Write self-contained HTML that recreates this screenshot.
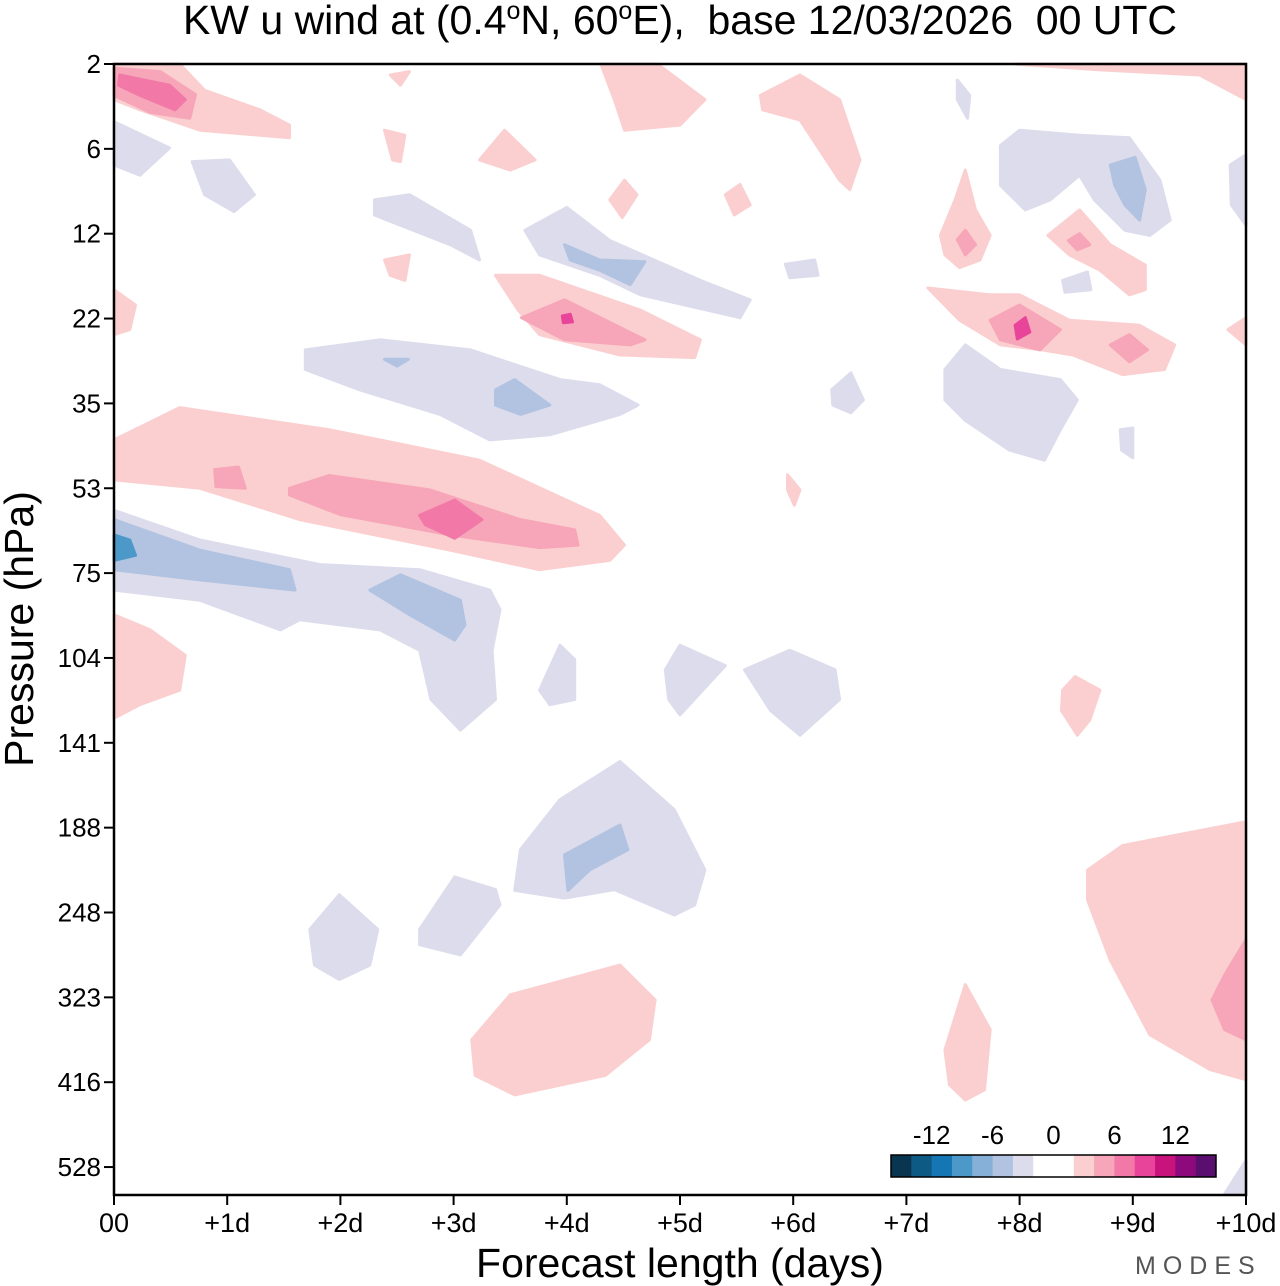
<!DOCTYPE html>
<html><head><meta charset="utf-8"><style>
body{margin:0;background:#fff;}
svg{display:block;font-family:"Liberation Sans",sans-serif;}
</style></head><body>
<svg id="chart" width="1280" height="1286" viewBox="0 0 1280 1286">
<text x="680" y="34" font-size="41" text-anchor="middle" style="white-space:pre">KW u wind at (0.4<tspan font-size="25" dy="-15">o</tspan><tspan dy="15">N, 60</tspan><tspan font-size="25" dy="-15">o</tspan><tspan dy="15">E),  base 12/03/2026  00 UTC</tspan></text>
<g id="fills"></g>
<rect x="114" y="64" width="1132" height="1131" fill="none" stroke="#000" stroke-width="2.5"/>
<g id="axes"></g>
<g id="cbar"></g>
<text transform="translate(33,629) rotate(-90)" font-size="41" text-anchor="middle">Pressure (hPa)</text>
<text x="680" y="1277" font-size="41" text-anchor="middle">Forecast length (days)</text>
<text x="1135" y="1274" font-size="25" fill="#555" letter-spacing="7">MODES</text>
</svg>
<script>
const levels=[2,6,12,22,35,53,75,104,141,188,248,323,416,528];
const dayTicks=["00","+1d","+2d","+3d","+4d","+5d","+6d","+7d","+8d","+9d","+10d"];
const cbarColors=["#0a3550","#0d5a85","#1476b3","#4b98c9","#86b0d7","#b1c3e0","#dcdcec","#ffffff","#ffffff","#fbcfcf","#f6a6b8","#f278a8","#e8459a","#c8137d","#8e0a7c","#5a0f6e"];
const cbarLabels=["-12","-6","0","6","12"];
const C={L:"#dcdcec",B:"#b1c3e0",B2:"#86b0d7",B3:"#4b98c9",P:"#fbcfcf",P2:"#f6a6b8",P3:"#f278a8",P4:"#e8459a"};
// contour regions: [colorKey, [[day, levelIndex], ...]]
const regions=[
["P",[[0,0],[0.58,0],[0.8,0.31],[1.29,0.54],[1.55,0.72],[1.55,0.87],[0.76,0.78],[0.23,0.54],[0,0.42]]],
["P2",[[0,0.05],[0.41,0.09],[0.72,0.36],[0.67,0.64],[0.32,0.57],[0,0.37]]],
["P3",[[0.05,0.13],[0.49,0.25],[0.63,0.42],[0.54,0.54],[0.23,0.37],[0.04,0.25]]],
["P",[[0,4.43],[0.58,4.05],[1.9,4.31],[3.23,4.67],[4.29,5.32],[4.51,5.67],[4.38,5.85],[3.76,5.96],[2.97,5.73],[1.64,5.37],[0.76,5.0],[0,4.9]]],
["P2",[[1.55,5.0],[1.9,4.85],[2.79,5.02],[3.59,5.37],[4.07,5.49],[4.1,5.67],[3.76,5.7],[2.97,5.55],[2.0,5.31],[1.55,5.08]]],
["P2",[[0.89,4.78],[1.1,4.75],[1.16,5.0],[0.9,4.98]]],
["P3",[[2.7,5.32],[3.01,5.14],[3.25,5.37],[3.01,5.59],[2.75,5.43]]],
["L",[[0,5.26],[0.76,5.61],[1.82,5.9],[2.7,5.96],[3.32,6.2],[3.41,6.43],[3.34,6.91],[3.37,7.49],[3.06,7.85],[2.8,7.49],[2.7,6.91],[2.35,6.67],[1.64,6.55],[1.47,6.67],[0.76,6.32],[0,6.2]]],
["B",[[0,5.37],[0.76,5.73],[1.55,5.96],[1.6,6.2],[0.76,6.08],[0,5.96]]],
["B",[[2.26,6.2],[2.53,6.02],[3.06,6.32],[3.1,6.61],[3.01,6.79],[2.61,6.49]]],
["B3",[[0,5.55],[0.14,5.61],[0.19,5.79],[0,5.85]]],
["L",[[1.69,3.37],[2.35,3.25],[3.15,3.37],[3.94,3.72],[4.29,3.78],[4.63,4.02],[4.47,4.13],[3.85,4.37],[3.32,4.43],[2.88,4.13],[2.17,3.84],[1.69,3.6]]],
["B",[[3.37,3.84],[3.54,3.72],[3.85,4.02],[3.59,4.13],[3.37,4.02]]],
["B",[[2.39,3.48],[2.6,3.48],[2.5,3.56]]],
["P",[[3.37,2.49],[3.76,2.49],[4.65,2.9],[5.18,3.25],[5.13,3.46],[4.47,3.43],[3.76,3.19],[3.57,2.9]]],
["P2",[[3.6,2.99],[3.98,2.78],[4.69,3.25],[4.56,3.31],[3.98,3.25]]],
["P4",[[3.96,2.97],[4.03,2.95],[4.05,3.04],[3.97,3.05]]],
["L",[[3.63,1.96],[4.0,1.69],[4.38,2.08],[5.18,2.55],[5.62,2.78],[5.53,2.99],[4.65,2.72],[4.29,2.49],[3.76,2.25]]],
["B",[[3.98,2.13],[4.29,2.31],[4.69,2.33],[4.56,2.6],[4.29,2.43],[4.03,2.31]]],
["L",[[2.3,1.6],[2.61,1.54],[3.15,1.96],[3.23,2.31],[2.97,2.13],[2.3,1.78]]],
["L",[[0,0.68],[0.49,0.99],[0.23,1.31],[0,1.19]]],
["L",[[0.69,1.15],[1.02,1.13],[1.24,1.54],[1.06,1.74],[0.8,1.54]]],
["P",[[2.39,2.31],[2.61,2.25],[2.57,2.55],[2.44,2.49]]],
["P",[[2.39,0.78],[2.57,0.84],[2.53,1.15],[2.46,1.13]]],
["P",[[2.44,0.13],[2.61,0.09],[2.53,0.25]]],
["P",[[3.23,1.13],[3.45,0.78],[3.72,1.13],[3.5,1.25]]],
["P",[[4.38,1.6],[4.51,1.37],[4.62,1.54],[4.49,1.81]]],
["P",[[5.4,1.54],[5.53,1.42],[5.62,1.66],[5.48,1.78]]],
["P",[[4.3,0],[4.8,0],[5.22,0.42],[5.0,0.72],[4.51,0.78],[4.42,0.42]]],
["P",[[5.71,0.37],[6.06,0.13],[6.41,0.42],[6.59,1.13],[6.5,1.48],[6.41,1.37],[6.06,0.66],[5.73,0.54]]],
["P",[[0,2.66],[0.19,2.84],[0.14,3.13],[0,3.19]]],
["P",[[5.95,4.84],[6.06,5.02],[6.01,5.2],[5.95,5.02]]],
["P",[[0,6.49],[0.32,6.67],[0.63,6.97],[0.58,7.38],[0.23,7.55],[0,7.71]]],
["L",[[3.76,7.38],[3.94,6.85],[4.07,7.02],[4.07,7.49],[3.85,7.55]]],
["L",[[4.87,7.14],[5.0,6.85],[5.4,7.09],[5.0,7.67],[4.9,7.49]]],
["L",[[5.57,7.14],[5.97,6.91],[6.37,7.14],[6.41,7.49],[6.06,7.91],[5.8,7.62]]],
["P",[[8.38,7.38],[8.49,7.22],[8.71,7.38],[8.62,7.73],[8.51,7.91],[8.37,7.62]]],
["L",[[3.54,9.74],[3.59,9.26],[3.94,8.67],[4.47,8.22],[4.95,8.79],[5.22,9.5],[5.13,9.91],[4.95,10.03],[4.42,9.73],[3.98,9.83]]],
["B",[[3.98,9.32],[4.47,8.97],[4.54,9.26],[4.2,9.5],[4.01,9.74]]],
["L",[[1.73,10.2],[1.99,9.79],[2.33,10.2],[2.26,10.62],[1.99,10.79],[1.77,10.62]]],
["L",[[2.7,10.2],[3.01,9.58],[3.37,9.73],[3.41,9.91],[3.06,10.5],[2.7,10.38]]],
["P",[[3.16,11.5],[3.5,10.97],[4.47,10.62],[4.78,11.03],[4.73,11.5],[4.34,11.92],[3.54,12.15],[3.19,11.92]]],
["P",[[7.34,11.62],[7.52,10.85],[7.74,11.38],[7.69,12.09],[7.52,12.21],[7.38,12.03]]],
["P",[[8.6,9.5],[8.91,9.21],[10,8.93],[10,11.97],[9.68,11.85],[9.15,11.44],[8.8,10.56],[8.6,9.85]]],
["P2",[[9.81,10.74],[10,10.32],[10,11.5],[9.81,11.38],[9.7,11.03]]],
["L",[[7.34,3.6],[7.52,3.31],[7.83,3.6],[8.36,3.72],[8.51,3.96],[8.36,4.31],[8.22,4.67],[7.91,4.55],[7.52,4.2],[7.34,3.96]]],
["P",[[7.19,2.64],[7.73,2.72],[8.0,2.72],[8.44,3.02],[9.06,3.08],[9.37,3.31],[9.28,3.6],[8.91,3.66],[8.47,3.43],[8.2,3.37],[7.83,3.31],[7.47,3.02]]],
["P2",[[7.74,3.02],[8.0,2.84],[8.36,3.13],[8.18,3.37],[7.83,3.25]]],
["P2",[[8.8,3.31],[8.97,3.19],[9.13,3.37],[8.97,3.51]]],
["P4",[[7.96,3.08],[8.05,2.99],[8.09,3.16],[7.98,3.24]]],
["P",[[8.25,2.02],[8.53,1.72],[8.8,2.13],[9.11,2.37],[9.11,2.66],[8.97,2.72],[8.71,2.43],[8.44,2.25]]],
["P2",[[8.43,2.08],[8.53,2.0],[8.62,2.13],[8.51,2.19]]],
["P",[[7.3,2.02],[7.43,1.6],[7.52,1.25],[7.61,1.72],[7.74,2.02],[7.65,2.31],[7.47,2.4],[7.34,2.25]]],
["P2",[[7.45,2.07],[7.52,1.96],[7.61,2.13],[7.52,2.25]]],
["L",[[7.83,0.96],[8.0,0.78],[8.53,0.84],[8.97,0.87],[9.24,1.37],[9.33,1.84],[9.15,2.02],[8.93,1.96],[8.66,1.6],[8.53,1.31],[8.27,1.6],[8.05,1.72],[7.83,1.43]]],
["B",[[8.8,1.19],[9.02,1.1],[9.11,1.48],[9.06,1.84],[8.93,1.66],[8.84,1.43]]],
["P",[[7.96,0],[10,0],[10,0.42],[9.59,0.13],[8.71,0.07]]],
["L",[[9.86,1.19],[10,1.07],[10,1.9],[9.87,1.66]]],
["L",[[7.45,0.19],[7.56,0.37],[7.54,0.64],[7.45,0.42]]],
["P",[[9.84,3.13],[10,2.99],[10,3.31]]],
["L",[[9.81,13.32],[10,12.92],[10,13.33]]],
["L",[[8.38,2.55],[8.6,2.45],[8.63,2.66],[8.4,2.69]]],
["L",[[5.93,2.36],[6.19,2.31],[6.22,2.49],[5.97,2.52]]],
["L",[[6.34,3.84],[6.51,3.64],[6.62,3.96],[6.51,4.11],[6.35,4.02]]],
["L",[[8.89,4.31],[9.0,4.29],[9.0,4.64],[8.9,4.55]]]
];
const NS="http://www.w3.org/2000/svg";
const X0=114,X1=1246,Y0=64,YSTEP=84.85;
const xScale=d=>X0+d*(X1-X0)/10;
const yScale=l=>Y0+l*YSTEP;
const fills=document.getElementById('fills');
regions.forEach((r,i)=>{
  const p=document.createElementNS(NS,'polygon');
  p.setAttribute('points',r[1].map(q=>xScale(q[0]).toFixed(1)+','+Math.min(1195,yScale(q[1])).toFixed(1)).join(' '));
  p.setAttribute('fill',C[r[0]]);
  p.setAttribute('stroke',C[r[0]]);
  p.setAttribute('stroke-linejoin','round');
  p.setAttribute('stroke-width','3');
  
  
  fills.appendChild(p);
});
const axes=document.getElementById('axes');
levels.forEach((v,i)=>{
  const y=yScale(i);
  const t=document.createElementNS(NS,'line');
  t.setAttribute('x1',104);t.setAttribute('x2',114);t.setAttribute('y1',y);t.setAttribute('y2',y);t.setAttribute('stroke','#000');t.setAttribute('stroke-width','2');
  
  
  axes.appendChild(t);
  const tx=document.createElementNS(NS,'text');
  tx.setAttribute('x',101);tx.setAttribute('y',y+9);tx.setAttribute('font-size','26');tx.setAttribute('text-anchor','end');
  tx.textContent=v;
  
  
  axes.appendChild(tx);
});
dayTicks.forEach((s,i)=>{
  const x=xScale(i);
  const t=document.createElementNS(NS,'line');
  t.setAttribute('x1',x);t.setAttribute('x2',x);t.setAttribute('y1',1195);t.setAttribute('y2',1205);t.setAttribute('stroke','#000');t.setAttribute('stroke-width','2');
  
  
  axes.appendChild(t);
  const tx=document.createElementNS(NS,'text');
  tx.setAttribute('x',x);tx.setAttribute('y',1232);tx.setAttribute('font-size','27');tx.setAttribute('text-anchor','middle');
  tx.textContent=s;
  
  
  axes.appendChild(tx);
});
const cb=document.getElementById('cbar');
const cw=325/cbarColors.length;
cbarColors.forEach((c,i)=>{
  const r=document.createElementNS(NS,'rect');
  r.setAttribute('x',891+i*cw);r.setAttribute('y',1155);r.setAttribute('width',cw+0.5);r.setAttribute('height',22);r.setAttribute('fill',c);
  
  
  cb.appendChild(r);
});
const fr=document.createElementNS(NS,'rect');
fr.setAttribute('x',891);fr.setAttribute('y',1155);fr.setAttribute('width',325);fr.setAttribute('height',22);fr.setAttribute('fill','none');fr.setAttribute('stroke','#000');fr.setAttribute('stroke-width','1.5');


cb.appendChild(fr);
cbarLabels.forEach((s,i)=>{
  const tx=document.createElementNS(NS,'text');
  tx.setAttribute('x',891+(2+i*3)*cw);tx.setAttribute('y',1144);tx.setAttribute('font-size','26');tx.setAttribute('text-anchor','middle');
  tx.textContent=s;
  
  
  cb.appendChild(tx);
});
</script>
</body></html>
